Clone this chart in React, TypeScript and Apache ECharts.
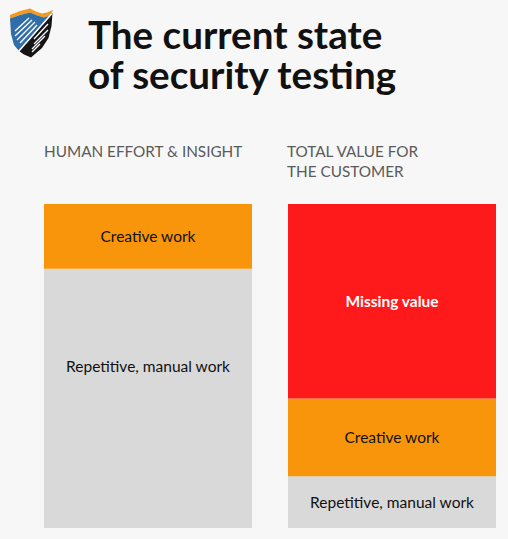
import React, { useEffect, useRef } from "react";
import * as echarts from "echarts";

const columns = ["HUMAN EFFORT & INSIGHT", "TOTAL VALUE FOR\nTHE CUSTOMER"];
const repetitiveWork = [80, 16];
const creativeWork = [20, 24];
const missingValue = [0, 60];
const titleText = "The current state\nof security testing";

const FONT = "Lato, 'Noto Sans', sans-serif";

export default function App() {
  const ref = useRef<HTMLDivElement>(null);
  useEffect(() => {
    if (!ref.current) return;
    const chart = echarts.init(ref.current, undefined, { renderer: "svg" });
    const grids = [
      { left: 44, top: 204, width: 208, bottom: 11 },
      { left: 288, top: 204, width: 208, bottom: 11 },
    ];
    const labelBase = {
      show: true,
      position: "inside",
      fontFamily: FONT,
      fontSize: 15.5,
      color: "#111111",
    };
    const series: any[] = [];
    columns.forEach((c, i) => {
      series.push({
        type: "bar",
        name: "Repetitive, manual work",
        stack: "s" + i,
        xAxisIndex: i,
        yAxisIndex: i,
        barWidth: "100%",
        data: [repetitiveWork[i]],
        itemStyle: { color: "#d9d9d9" },
        label: { ...labelBase, formatter: "Repetitive, manual work", offset: i === 0 ? [0, -32] : [0, 0] },
      });
      series.push({
        type: "bar",
        name: "Creative work",
        stack: "s" + i,
        xAxisIndex: i,
        yAxisIndex: i,
        barWidth: "100%",
        data: [creativeWork[i]],
        itemStyle: { color: "#f8950a" },
        label: { ...labelBase, formatter: "Creative work" },
      });
      if (missingValue[i] > 0) {
        series.push({
          type: "bar",
          name: "Missing value",
          stack: "s" + i,
          xAxisIndex: i,
          yAxisIndex: i,
          barWidth: "100%",
          data: [missingValue[i]],
          itemStyle: { color: "#fe1a1a" },
          label: { ...labelBase, color: "#ffffff", fontWeight: "bold", formatter: "Missing value" },
        });
      }
    });
    const white = { stroke: "#ffffff", lineWidth: 1.3 };
    chart.setOption({
      animation: false,
      backgroundColor: "#f7f7f7",
      title: [
        {
          text: titleText,
          left: 88,
          top: 14,
          padding: 0,
          textStyle: { fontFamily: FONT, fontSize: 38.6, fontWeight: "bold", color: "#111111", lineHeight: 40 },
        },
        {
          text: columns[0],
          left: 44,
          top: 141,
          padding: 0,
          textStyle: { fontFamily: FONT, fontSize: 15.3, fontWeight: "normal", color: "#5a5a5a", lineHeight: 20 },
        },
        {
          text: columns[1],
          left: 287,
          top: 141,
          padding: 0,
          textStyle: { fontFamily: FONT, fontSize: 15.3, fontWeight: "normal", color: "#5a5a5a", lineHeight: 20 },
        },
      ],
      grid: grids,
      xAxis: columns.map((c, i) => ({
        type: "category",
        gridIndex: i,
        data: [c],
        show: false,
      })),
      yAxis: columns.map((c, i) => ({
        type: "value",
        gridIndex: i,
        min: 0,
        max: 100,
        show: false,
      })),
      series,
      graphic: [
        {
          type: "group",
          left: 0,
          top: 0,
          children: [
            { type: "rect", shape: { x: 0, y: 0, width: 1, height: 1 }, style: { fill: "rgba(0,0,0,0)" } },
            { type: "polygon", shape: { points: [[10, 15], [20, 11], [30, 8.5], [36, 11.5], [42, 13.5], [47, 12.5], [53, 10], [51, 15], [44, 17.5], [36, 15], [30, 12.5], [20, 15], [10, 18.5]] }, style: { fill: "#f39a1c" } },
            { type: "polygon", shape: { points: [[10, 18.5], [20, 15], [30, 12.5], [36, 15], [44, 17.5], [51, 15], [19, 51], [14, 45], [11, 34]] }, style: { fill: "#2f6ea8" } },
            { type: "polygon", shape: { points: [[51, 15], [52.5, 13], [51.5, 26], [48.5, 38], [42, 48], [31, 57.5], [24, 54.5], [19, 51]] }, style: { fill: "#151515" } },
            { type: "line", shape: { x1: 51.5, y1: 14, x2: 18, y2: 52 }, style: { stroke: "#ffffff", lineWidth: 1.6 } },
            { type: "line", shape: { x1: 29, y1: 18, x2: 15, y2: 31 }, style: white },
            { type: "line", shape: { x1: 32, y1: 20, x2: 15, y2: 36 }, style: white },
            { type: "line", shape: { x1: 35, y1: 22, x2: 17, y2: 40 }, style: white },
            { type: "line", shape: { x1: 37, y1: 25, x2: 20, y2: 43 }, style: white },
            { type: "line", shape: { x1: 48, y1: 24, x2: 34, y2: 39 }, style: white },
            { type: "line", shape: { x1: 48, y1: 30, x2: 34, y2: 44 }, style: white },
            { type: "line", shape: { x1: 45, y1: 36, x2: 32, y2: 49 }, style: white },
            { type: "line", shape: { x1: 40, y1: 44, x2: 32, y2: 52 }, style: white },
          ],
        },
      ],
    });
    return () => chart.dispose();
  }, []);
  return (
    <div
      ref={ref}
      style={{ position: "absolute", left: 0, top: 0, width: 508, height: 539 }}
    />
  );
}
